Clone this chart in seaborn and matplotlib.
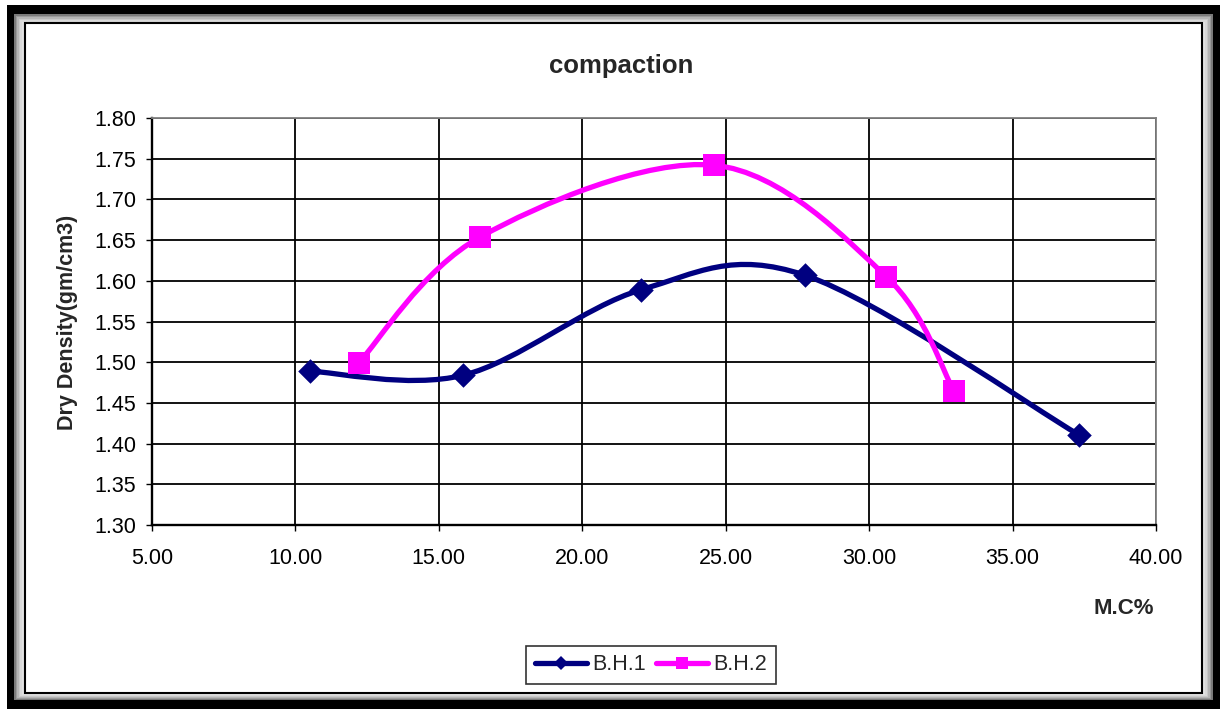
import numpy as np
import pandas as pd
import seaborn as sns
import matplotlib
matplotlib.use("Agg")
import matplotlib.pyplot as plt
from matplotlib.path import Path
from matplotlib.patches import PathPatch, Rectangle
from matplotlib.lines import Line2D

# ---- data ----
bh1_mc = [10.50, 15.85, 22.05, 27.75, 37.30]
bh1_dd = [1.489, 1.484, 1.589, 1.607, 1.411]
bh2_mc = [12.20, 16.45, 24.60, 30.60, 32.95]
bh2_dd = [1.499, 1.654, 1.742, 1.605, 1.465]
series_names = ["B.H.1", "B.H.2"]
x_ticks = [5, 10, 15, 20, 25, 30, 35, 40]
y_ticks = [1.30, 1.35, 1.40, 1.45, 1.50, 1.55, 1.60, 1.65, 1.70, 1.75, 1.80]
title = "compaction"
x_label = "M.C%"
y_label = "Dry Density(gm/cm3)"

NAVY = "#000080"
MAGENTA = "#FF00FF"

sns.set_theme(style="white")
plt.rcParams["font.family"] = ["Liberation Sans", "DejaVu Sans"]

W, H = 1220, 709
fig = plt.figure(figsize=(W / 100, H / 100), dpi=100)
fig.patch.set_facecolor("white")


def frect(x0, y0, x1, y1, **kw):
    """Rectangle in pixel coords (from top-left) of the figure."""
    r = Rectangle((x0 / W, 1 - y1 / H), (x1 - x0) / W, (y1 - y0) / H,
                  transform=fig.transFigure, **kw)
    fig.add_artist(r)
    return r

# outer frame: black border, grey bevel, white chart area with thin border
frect(7, 5, 1220, 709, facecolor="black", edgecolor="none", zorder=-10)
grays = ["#7a7a7a", "#9a9a9a", "#b4b4b4", "#c8c8c8", "#d8d8d8", "#e2e2e2"]
for i, g in enumerate(grays):
    frect(14 + i * 1.6, 14 + i * 1.5, 1213 - i * 1.6, 700 - i * 1.0,
          facecolor=g, edgecolor="none", zorder=-9 + i * 0.1)
frect(25, 23, 1202, 693, facecolor="white", edgecolor="black",
      linewidth=1.5, zorder=-8)

ax = fig.add_axes([152 / W, 1 - 525 / H, (1156 - 152) / W, (525 - 118) / H])
ax.set_facecolor("none")

ax.set_xlim(5, 40)
ax.set_ylim(1.30, 1.80)
ax.set_xticks(x_ticks)
ax.set_yticks(y_ticks)
ax.set_xticklabels([f"{v:.2f}" for v in x_ticks])
ax.set_yticklabels([f"{v:.2f}" for v in y_ticks])
ax.tick_params(axis="both", which="major", direction="out", length=4.5,
               width=1.0, color="black", labelsize=15.5, labelcolor="black")
ax.tick_params(axis="y", pad=7)
ax.tick_params(axis="x", pad=12)
ax.tick_params(left=True, bottom=True)
ax.grid(True, color="black", linewidth=1.3)
ax.set_axisbelow(True)
for side in ["left", "bottom"]:
    ax.spines[side].set_color("black")
    ax.spines[side].set_linewidth(1.7)
for side in ["top", "right"]:
    ax.spines[side].set_color("#808080")
    ax.spines[side].set_linewidth(1.3)


def smooth_path(xs, ys):
    """Excel-like smoothed line: cubic Bezier segments (Catmull-Rom tangents)."""
    P = np.column_stack([xs, ys]).astype(float)
    n = len(P)
    verts = [P[0]]
    codes = [Path.MOVETO]
    for i in range(n - 1):
        p0 = P[i - 1] if i > 0 else P[i]
        p1 = P[i]
        p2 = P[i + 1]
        p3 = P[i + 2] if i + 2 < n else P[i + 1]
        c1 = p1 + (p2 - p0) / 6.0
        c2 = p2 - (p3 - p1) / 6.0
        verts += [c1, c2, p2]
        codes += [Path.CURVE4] * 3
    return Path(verts, codes)


lw = 3.8
for xs, ys, col, z in [(bh1_mc, bh1_dd, NAVY, 3), (bh2_mc, bh2_dd, MAGENTA, 5)]:
    patch = PathPatch(smooth_path(xs, ys), facecolor="none", edgecolor=col,
                      linewidth=lw, capstyle="round", joinstyle="round",
                      zorder=z)
    ax.add_patch(patch)

df1 = pd.DataFrame({"mc": bh1_mc, "dd": bh1_dd})
df2 = pd.DataFrame({"mc": bh2_mc, "dd": bh2_dd})
sns.scatterplot(data=df1, x="mc", y="dd", ax=ax, marker="D", s=12.5 ** 2,
                color=NAVY, edgecolor=NAVY, linewidth=0, zorder=4, legend=False)
sns.scatterplot(data=df2, x="mc", y="dd", ax=ax, marker="s", s=16 ** 2,
                color=MAGENTA, edgecolor=MAGENTA, linewidth=0, zorder=6,
                legend=False)
ax.set_xlabel("")
ax.set_ylabel("")

# title and axis labels
fig.text(621 / W, 1 - 66 / H, title, ha="center", va="center",
         fontsize=18.5, fontweight="bold")
fig.text(68 / W, 1 - 322 / H, y_label, ha="center", va="center",
         rotation=90, fontsize=15.5, fontweight="bold")
fig.text(1124 / W, 1 - 609 / H, x_label, ha="center", va="center",
         fontsize=16, fontweight="bold")

# legend
handles = [
    Line2D([], [], color=NAVY, linewidth=lw, marker="D", markersize=7,
           markeredgewidth=0),
    Line2D([], [], color=MAGENTA, linewidth=lw, marker="s", markersize=8,
           markeredgewidth=0),
]
leg = fig.legend(handles, series_names, loc="center",
                 bbox_to_anchor=(651 / W, 1 - 665 / H), ncol=2,
                 fontsize=15.5, frameon=True, fancybox=False,
                 handlelength=2.4, handletextpad=0.25, columnspacing=0.5,
                 borderpad=0.4, borderaxespad=0)
leg.get_frame().set_edgecolor("black")
leg.get_frame().set_linewidth(1.2)

fig.savefig("out.png", dpi=100, facecolor="white")
